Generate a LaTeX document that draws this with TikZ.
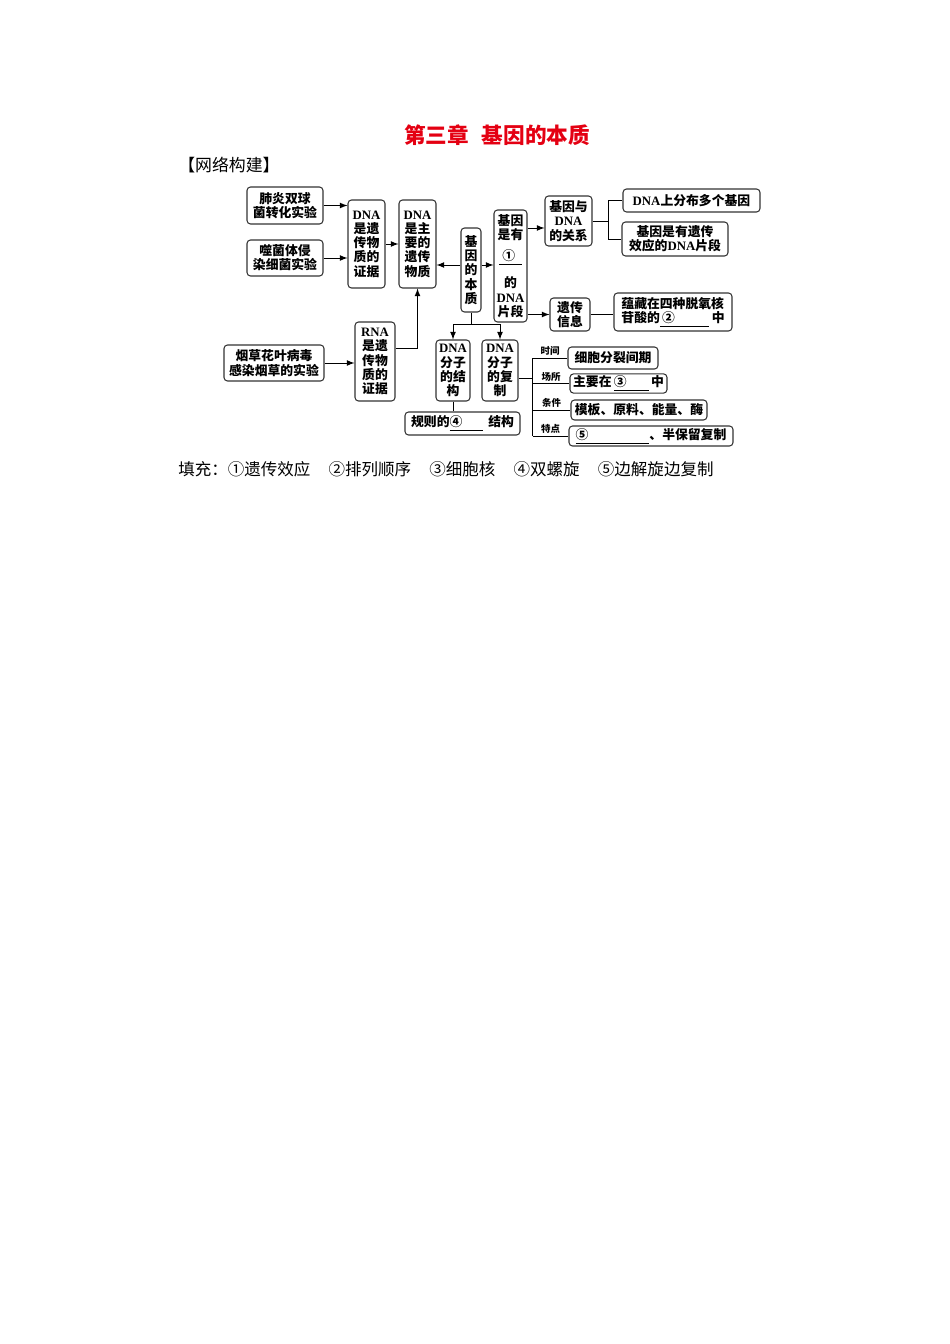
\documentclass[tikz,border=0pt]{standalone}
\usepackage{fontspec}
\setmainfont{Noto Sans CJK SC}
\newfontfamily\lat{Liberation Serif}
\usetikzlibrary{positioning}

\definecolor{titlered}{RGB}{228,0,18}
\newcommand{\boxfont}{\fontsize{7.3}{8.1}\selectfont\bfseries}
\newcommand{\tagfont}{\fontsize{5.4}{6}\selectfont\bfseries}
\newcommand{\dna}{{\lat\bfseries DNA}}
\newcommand{\rna}{{\lat\bfseries RNA}}
\newcommand{\gap}[2]{\underline{\makebox[#1][l]{#2}}}

\tikzstyle{block} = [rectangle, draw=black!80, line width=0.6pt, rounded corners=2pt, align=center, inner sep=1pt, font=\boxfont]
\tikzstyle{arrow} = [draw, line width=0.5pt, -latex]
\tikzstyle{line} = [draw, line width=0.5pt]
\tikzstyle{tag} = [above, inner sep=1pt, font=\tagfont]

\begin{document}
\begin{tikzpicture}[node distance=1cm, auto]
    \useasboundingbox (0,0) rectangle (19cm,-26.88cm);

    % heading
    \node[text=titlered, font=\fontsize{12.3}{14}\selectfont\bfseries] (title) at (9.94cm,-2.7cm) {第三章\hspace{0.6em}基因的本质};
    \node[anchor=west, inner sep=0pt, font=\fontsize{9.6}{11}\selectfont] (head) at (3.56cm,-3.3cm) {【网络构建】};

    % left column
    \node[block, minimum width=1.52cm, minimum height=0.74cm] (pneumo) at (5.7cm,-4.11cm) {肺炎双球\\菌转化实验};
    \node[block, below of=pneumo, yshift=-0.05cm, minimum width=1.52cm, minimum height=0.72cm] (phage) {噬菌体侵\\染细菌实验};
    \node[block, right of=pneumo, xshift=0.63cm, yshift=-0.77cm, minimum width=0.74cm, minimum height=1.76cm] (dnaproof) {\dna\\是遗\\传物\\质的\\证据};
    \node[block, right of=dnaproof, xshift=0.02cm, minimum width=0.74cm, minimum height=1.76cm] (dnamain) {\dna\\是主\\要的\\遗传\\物质};
    \node[block, below of=phage, xshift=-0.22cm, yshift=-1.1cm, minimum width=2cm, minimum height=0.72cm] (tmv) {烟草花叶病毒\\感染烟草的实验};
    \node[block, right of=tmv, xshift=1.02cm, yshift=0.03cm, minimum width=0.8cm, minimum height=1.58cm] (rnaproof) {\rna\\是遗\\传物\\质的\\证据};

    % middle
    \node[block, right of=dnamain, xshift=0.07cm, yshift=-0.52cm, minimum width=0.4cm, minimum height=1.68cm] (essence) {基\\因\\的\\本\\质};
    \node[block, right of=essence, xshift=-0.21cm, yshift=0.08cm, minimum width=0.66cm, minimum height=2.24cm] (gene) {基因\\是有\\[4pt]\gap{13pt}{\hfil①\hfil}\\[5.5pt]的\\\dna\\片段};
    \node[block, below of=essence, xshift=-0.36cm, yshift=-1.01cm, minimum width=0.68cm, minimum height=1.22cm] (structure) {\dna\\分子\\的结\\构};
    \node[block, right of=structure, xshift=-0.06cm, minimum width=0.72cm, minimum height=1.22cm] (replication) {\dna\\分子\\的复\\制};
    \node[block, below of=structure, xshift=0.19cm, yshift=-0.06cm, minimum width=2.3cm, minimum height=0.46cm] (helix) {规则的\gap{19pt}{④}\hspace{3pt}结构};

    % right
    \node[block, right of=gene, xshift=0.16cm, yshift=0.9cm, minimum width=0.94cm, minimum height=1cm] (relation) {基因与\\\dna\\的关系};
    \node[block, right of=relation, xshift=1.46cm, yshift=0.41cm, minimum width=2.74cm, minimum height=0.46cm] (manygenes) {\dna{}上分布多个基因};
    \node[block, below of=manygenes, xshift=-0.33cm, yshift=0.23cm, minimum width=2.12cm, minimum height=0.68cm] (effect) {基因是有遗传\\效应的\dna{}片段};
    \node[block, below of=relation, xshift=0.03cm, yshift=-0.87cm, minimum width=0.8cm, minimum height=0.66cm] (info) {遗传\\信息};
    \node[block, right of=info, xshift=1.06cm, yshift=0.05cm, minimum width=2.36cm, minimum height=0.76cm, align=left] (store) {蕴藏在四种脱氧核\\苷酸的\gap{28pt}{\,②}\hspace{1.5pt}中};

    \node[block, right of=replication, xshift=1.26cm, yshift=0.25cm, minimum width=1.8cm, minimum height=0.44cm] (time) {细胞分裂间期};
    \node[block, below of=time, node distance=0.51cm, xshift=0.11cm, minimum width=1.94cm, minimum height=0.38cm] (place) {主要在\,\gap{20pt}{③}\,中};
    \node[block, below of=place, node distance=0.53cm, xshift=0.41cm, minimum width=2.72cm, minimum height=0.4cm] (cond) {模板、原料、能量、酶};
    \node[block, below of=cond, node distance=0.52cm, xshift=0.24cm, minimum width=3.28cm, minimum height=0.4cm] (trait) {\gap{42pt}{⑤}、半保留复制};

    % fill-in answers
    \node[anchor=west, inner sep=0pt, font=\fontsize{9.4}{11}\selectfont] (fill) at (3.56cm,-9.38cm) {填充：①遗传效应\hspace{1.1em}②排列顺序\hspace{1.1em}③细胞核\hspace{1.1em}④双螺旋\hspace{1.1em}⑤边解旋边复制};

    % lines
    \draw [arrow] (pneumo.east) to (pneumo.east -| dnaproof.west);
    \draw [arrow] (phage.east) to (phage.east -| dnaproof.west);
    \draw [arrow] (dnaproof.east) to (dnamain.west);
    \draw [arrow] (tmv.east) to (tmv.east -| rnaproof.west);
    \coordinate (r13) at ([yshift=0.27cm]rnaproof.east);
    \draw [arrow] (r13) -| (dnamain.south);

    \coordinate (l5) at ([yshift=0.1cm]essence.west);
    \coordinate (r5) at ([yshift=0.1cm]essence.east);
    \draw [arrow] (l5) to (l5 -| dnamain.east);
    \draw [arrow] (r5) to (r5 -| gene.west);
    \coordinate (s5) at ([yshift=-0.24cm]essence.south);
    \draw [line] (essence.south) -- (s5);
    \draw [arrow] (s5) -| (structure.north);
    \draw [arrow] (s5) -| (replication.north);
    \draw [line] (structure.south) -- (structure.south |- helix.north);

    \coordinate (l7) at ([yshift=-0.14cm]relation.west);
    \draw [arrow] (l7 -| gene.east) to (l7);
    \draw [arrow] (info.west -| gene.east) to (info.west);
    \draw [line] (info.east) -- (info.east -| store.west);
    \coordinate (r7) at ([xshift=0.32cm]relation.east);
    \draw [line] (relation.east) -- (r7) |- (manygenes.west);
    \draw [line] (r7) |- (effect.west);

    % replication features
    \coordinate (k) at ([xshift=0.28cm]replication.east);
    \coordinate (m16) at ([yshift=-0.15cm]replication.east);
    \draw [line] (m16) -- (m16 -| k);
    \draw [line] (k |- time.west) -- (k |- trait.west);
    \draw [line] (k |- time.west) -- node[tag] {时间} (time.west);
    \draw [line] (k |- place.west) -- node[tag] {场所} (place.west);
    \draw [line] (k |- cond.west) -- node[tag] {条件} (cond.west);
    \draw [line] (k |- trait.west) -- node[tag] {特点} (trait.west);
\end{tikzpicture}
\end{document}
